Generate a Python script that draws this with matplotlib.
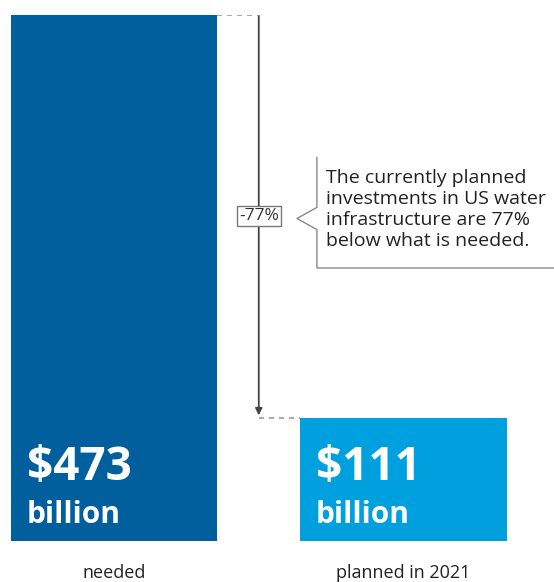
import matplotlib.pyplot as plt
from matplotlib.patches import FancyArrowPatch

# investment in US water infrastructure, billions of dollars
categories = ['needed', 'planned in 2021']
amounts = [473, 111]
bar_colors = ['#005F9C', '#00A0DF']
gap_label = '-77%'
note = ('The currently planned\ninvestments in US water\n'
        'infrastructure are 77%\nbelow what is needed.')

plt.rcParams['font.family'] = ['Open Sans', 'DejaVu Sans']

fig = plt.figure(figsize=(5.54, 5.82), dpi=100)
ax = fig.add_axes([0, 41 / 582, 1, 526 / 582])
ax.set_xlim(-0.394, 1.52)
ax.set_ylim(0, amounts[0])
ax.axis('off')

x = list(range(len(amounts)))
w = 0.712
ax.bar(x, amounts, width=w, color=bar_colors, zorder=2)

# value labels inside the bars
for i, v in enumerate(amounts):
    ax.text(i - w / 2 + 0.054, 55, f'${v}', color='white', fontsize=33,
            fontweight='bold', ha='left', va='baseline', zorder=3)
    ax.text(i - w / 2 + 0.054, 16, 'billion', color='white', fontsize=21.5,
            fontweight='bold', ha='left', va='baseline', zorder=3)
    ax.text(i, -29, categories[i], color='#222222', fontsize=13,
            ha='center', va='center', clip_on=False)

# dashed guides and the drop arrow between the two totals
mid = 0.5
ax.plot([w / 2, mid], [amounts[0], amounts[0]], ls=(0, (3, 3)), color='#999999', lw=1.2)
ax.plot([mid, 1 - w / 2], [amounts[1], amounts[1]], ls=(0, (3, 3)), color='#999999', lw=1.2)
ax.add_patch(FancyArrowPatch((mid, amounts[0]), (mid, amounts[1] + 2),
                             arrowstyle='-|>', mutation_scale=10,
                             color='#444444', lw=1.3, shrinkA=0, shrinkB=0))
ax.text(mid, 292, gap_label, fontsize=12.5, color='#333333', ha='center', va='center',
        bbox=dict(boxstyle='square,pad=0.12', fc='white', ec='#777777', lw=1), zorder=4)

# speech-bracket callout
bx, tip = 0.701, 0.632
ax.plot([bx, bx, tip, bx, bx, 1.52],
        [345, 300, 290, 280, 245.5, 245.5], color='#888888', lw=1, clip_on=False)
ax.text(bx + 0.03, 298, note, fontsize=14, color='#222222', ha='left', va='center',
        linespacing=1.22)

fig.savefig('out.png', dpi=100)
